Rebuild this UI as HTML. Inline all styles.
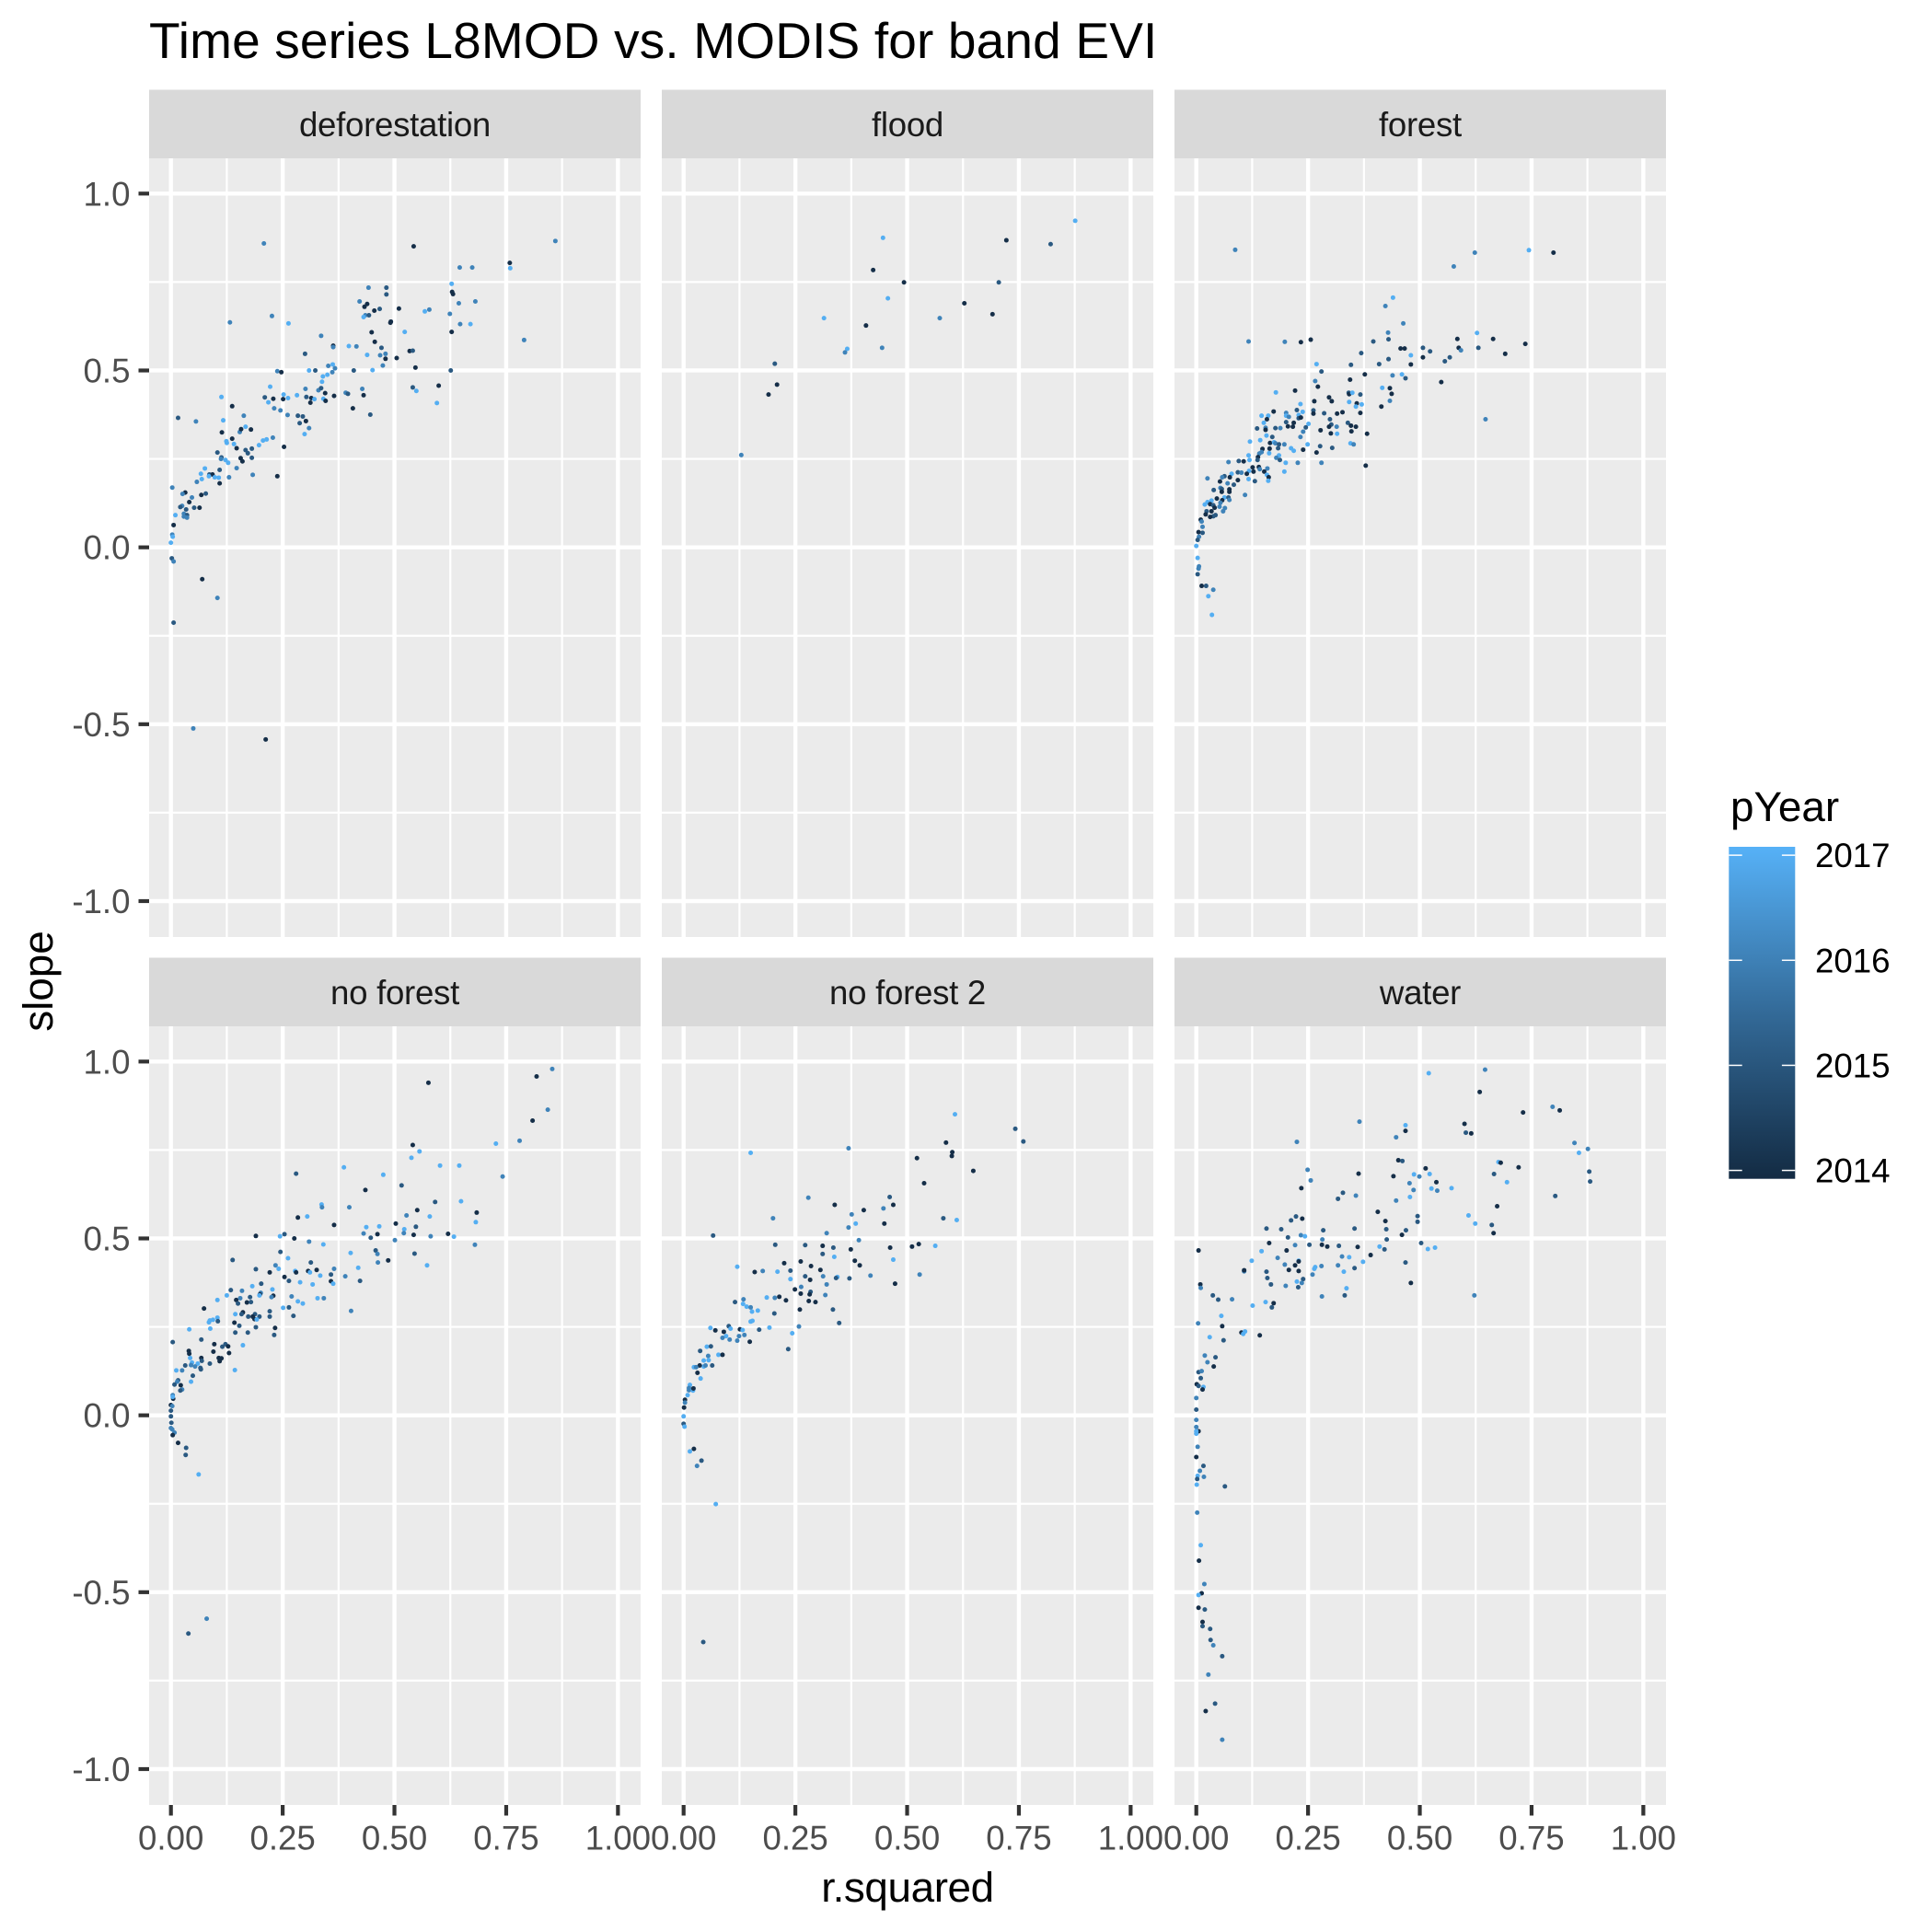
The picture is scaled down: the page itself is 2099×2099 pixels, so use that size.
<!DOCTYPE html>
<html lang="en">
<head>
<meta charset="utf-8">
<title>Time series L8MOD vs. MODIS for band EVI</title>
<style>
html,body{margin:0;padding:0;background:#fff;}
svg{display:block;}
text{font-family:"Liberation Sans",Arial,sans-serif;}
</style>
</head>
<body>
<svg id="chart" xmlns="http://www.w3.org/2000/svg" width="2099" height="2099" viewBox="0 0 2099 2099">
<defs>
<linearGradient id="legendGradient" x1="0" y1="1" x2="0" y2="0">
<stop offset="0" stop-color="#132B43"/>
<stop offset="0.5" stop-color="#336A98"/>
<stop offset="1" stop-color="#56B1F7"/>
</linearGradient>
</defs>
<rect x="0" y="0" width="2099" height="2099" fill="#fff"/>
<text x="162" y="63" font-size="55" letter-spacing="0.16" fill="#000">Time series L8MOD vs. MODIS for band EVI</text>
<text x="986" y="2066" font-size="45.83" letter-spacing="-0.4" fill="#000" text-anchor="middle">r.squared</text>
<text x="0" y="0" transform="translate(57 1066) rotate(-90)" font-size="45.83" fill="#000" text-anchor="middle">slope</text>
<g id="panels"></g>
<g id="legend">
<text x="1880" y="892" font-size="45.83" fill="#000">pYear</text>
<rect x="1878.3" y="920" width="72" height="360.7" fill="url(#legendGradient)"/>
</g>
</svg>
<script>
const panelNames = ['deforestation','flood','forest','no forest','no forest 2','water'];
const xTickValues = [0,0.25,0.5,0.75,1];
const xTickLabels = ['0.00','0.25','0.50','0.75','1.00'];
const xMinorValues = [0.125,0.375,0.625,0.875];
const yTickValues = [-1,-0.5,0,0.5,1];
const yTickLabels = ['-1.0','-0.5','0.0','0.5','1.0'];
const yMinorValues = [-0.75,-0.25,0.25,0.75];
const legendYears = [2014,2015,2016,2017];

const deforestationR = [.208,.442,.482,.482,.422,.439,.433,.455,.467,.435,.443,.431,.492,.132,.226,.263,.449,.336,.456,.363,.363,.398,.415,.471,.300,.439,.468,.480,.480,.474,.352,.362,.367,.238,.247,.309,.323,.409,.451,.361,.350,.340,.338,.222,.301,.330,.336,.345,.391,.396,.428,.431,.365,.113,.210,.229,.251,.252,.262,.282,.303,.314,.321,.341,.346,.312,.218,.137,.231,.245,.407,.016,.056,.163,.117,.261,.284,.295,.288,.302,.446,.309,.299,.114,.154,.157,.167,.179,.137,.124,.125,.141,.147,.228,.214,.206,.197,.181,.253,.167,.172,.104,.113,.112,.156,.160,.181,.122,.128,.147,.076,.109,.067,.086,.093,.085,.098,.107,.130,.183,.238,.069,.058,.109,.003,.032,.026,.068,.078,.047,.041,.025,.021,.034,.052,.064,.010,.029,.036,.029,.036,.006,.003,.004,0,.002,.006,.070,.104,.543,.646,.674,.758,.759,.860,.628,.629,.631,.644,.681,.510,.568,.578,.624,.647,.670,.491,.523,.628,.790,.534,.541,.505,.547,.626,.599,.541,.549,.595,.006,.050,.212];
const deforestationSlope = [.859,.734,.734,.715,.695,.688,.680,.669,.674,.656,.656,.651,.638,.636,.654,.633,.608,.598,.581,.570,.566,.569,.568,.564,.547,.544,.543,.547,.533,.514,.513,.517,.506,.498,.495,.500,.500,.500,.501,.495,.488,.483,.468,.454,.448,.444,.450,.436,.437,.434,.448,.430,.428,.425,.424,.420,.419,.432,.422,.430,.425,.422,.419,.420,.414,.409,.410,.399,.393,.387,.393,.366,.356,.372,.359,.374,.372,.370,.351,.357,.375,.337,.320,.325,.326,.334,.341,.333,.307,.300,.295,.292,.280,.310,.305,.302,.289,.279,.284,.275,.266,.268,.254,.250,.252,.243,.253,.247,.239,.224,.223,.219,.208,.206,.206,.201,.198,.197,.198,.205,.201,.193,.185,.181,.169,.155,.151,.148,.152,.141,.128,.117,.114,.107,.112,.112,.091,.095,.091,.087,.084,.063,.036,.030,.013,-.031,-.040,-.090,-.143,.851,.791,.791,.804,.789,.866,.745,.722,.716,.690,.695,.675,.667,.672,.660,.631,.631,.635,.609,.609,.586,.555,.556,.535,.508,.500,.457,.452,.442,.408,-.213,-.512,-.543];
const deforestationYear = [2016,2016,2015,2015,2016,2014,2014,2014,2015,2016,2015,2017,2014,2016,2016,2017,2014,2016,2014,2014,2016,2017,2016,2015,2015,2017,2016,2016,2014,2016,2016,2017,2016,2016,2014,2017,2015,2015,2017,2016,2017,2017,2017,2017,2016,2016,2015,2014,2016,2015,2016,2014,2014,2017,2015,2014,2014,2017,2017,2017,2015,2014,2017,2017,2014,2014,2017,2014,2016,2016,2014,2015,2016,2016,2017,2016,2015,2015,2015,2014,2015,2016,2017,2014,2016,2014,2017,2014,2014,2017,2017,2017,2014,2016,2017,2017,2017,2015,2014,2015,2015,2015,2015,2016,2014,2014,2015,2017,2017,2016,2017,2015,2017,2015,2014,2017,2017,2017,2016,2016,2014,2017,2016,2014,2016,2014,2016,2014,2015,2016,2014,2016,2015,2015,2015,2014,2017,2016,2015,2016,2016,2014,2016,2017,2017,2015,2016,2014,2016,2014,2016,2016,2014,2017,2016,2017,2014,2014,2016,2016,2014,2017,2016,2016,2016,2017,2014,2017,2014,2016,2014,2015,2014,2014,2015,2014,2015,2017,2017,2015,2016,2014];

const floodR = [.446,.424,.493,.457,.408,.444,.366,.361,.314,.204,.209,.190,.129,.573,.628,.691,.705,.722,.821,.876];
const floodSlope = [.875,.784,.749,.704,.627,.564,.561,.551,.648,.519,.460,.432,.261,.648,.690,.659,.749,.868,.857,.923];
const floodYear = [2017,2014,2014,2017,2014,2016,2017,2016,2017,2015,2014,2014,2016,2016,2014,2014,2015,2014,2015,2017];

const forestR = [.087,.440,.423,.463,.429,.430,.396,.117,.198,.234,.256,.457,.466,.369,.480,.430,.269,.346,.409,.480,.280,.377,.439,.460,.468,.344,.266,.272,.416,.433,.178,.221,.341,.342,.349,.367,.437,.297,.303,.264,.342,.433,.233,.359,.370,.357,.414,.225,.262,.262,.238,.173,.201,.161,.146,.201,.207,.229,.229,.234,.286,.315,.327,.367,.158,.299,.151,.201,.218,.251,.339,.302,.136,.155,.155,.177,.188,.205,.216,.245,.297,.314,.346,.357,.239,.278,.347,.157,.170,.233,.301,.315,.382,.120,.143,.165,.174,.177,.185,.197,.249,.164,.183,.148,.212,.218,.239,.277,.304,.345,.352,.146,.141,.163,.117,.269,.185,.138,.137,.119,.179,.187,.072,.095,.106,.200,.227,.280,.379,.126,.140,.142,.159,.152,.128,.118,.113,.093,.101,.079,.197,.158,.063,.058,.075,.162,.025,.117,.093,.131,.161,.053,.070,.084,.039,.054,.057,.074,.057,.074,.109,.046,.063,.072,.074,.058,.034,.025,.019,.031,.038,.054,.052,.041,.064,.060,.023,.034,.021,.043,.038,.031,.010,.012,.014,.005,.014,.006,.003,0,.003,.006,.005,.003,.012,.022,.038,.027,.035,.799,.744,.623,.576,.736,.664,.691,.628,.631,.584,.587,.592,.507,.523,.548,.567,.647,.507,.556];
const forestSlope = [.841,.706,.682,.633,.607,.588,.582,.582,.581,.580,.587,.562,.562,.549,.543,.532,.518,.516,.518,.517,.497,.489,.486,.489,.478,.474,.470,.454,.451,.450,.438,.443,.437,.433,.437,.432,.434,.424,.413,.413,.411,.414,.405,.407,.404,.398,.398,.388,.387,.378,.383,.384,.380,.372,.372,.372,.369,.374,.365,.367,.379,.378,.382,.380,.362,.362,.352,.354,.352,.349,.352,.347,.336,.338,.332,.337,.337,.342,.341,.339,.341,.341,.344,.341,.327,.331,.328,.316,.312,.312,.322,.321,.321,.299,.303,.295,.297,.294,.291,.291,.291,.279,.280,.278,.280,.273,.276,.286,.281,.294,.291,.269,.265,.266,.260,.268,.260,.255,.247,.247,.253,.247,.241,.244,.243,.239,.239,.239,.231,.226,.227,.221,.223,.214,.214,.216,.208,.212,.211,.208,.214,.205,.201,.198,.198,.198,.195,.193,.190,.187,.188,.186,.181,.177,.162,.168,.165,.164,.157,.157,.148,.138,.141,.141,.134,.133,.132,.128,.121,.122,.119,.126,.115,.112,.111,.102,.102,.102,.093,.091,.088,.086,.078,.073,.058,.043,.041,.030,.021,.004,-.030,-.054,-.060,-.076,-.109,-.109,-.120,-.138,-.191,.833,.840,.833,.794,.575,.589,.547,.606,.564,.589,.564,.557,.564,.554,.467,.537,.362,.537,.526];
const forestYear = [2016,2017,2016,2016,2016,2015,2015,2016,2016,2014,2014,2014,2014,2015,2017,2015,2017,2015,2015,2014,2015,2014,2016,2017,2015,2014,2016,2014,2017,2014,2017,2014,2015,2014,2017,2015,2014,2014,2014,2014,2017,2016,2017,2014,2017,2017,2014,2015,2015,2014,2017,2014,2016,2017,2017,2017,2016,2017,2015,2014,2015,2014,2014,2014,2014,2015,2017,2015,2014,2017,2015,2015,2015,2016,2014,2015,2016,2014,2014,2015,2014,2016,2014,2014,2016,2014,2014,2017,2015,2016,2014,2017,2014,2017,2017,2014,2017,2016,2015,2016,2017,2014,2015,2014,2017,2017,2014,2015,2015,2017,2016,2016,2016,2017,2017,2014,2017,2014,2015,2017,2016,2015,2016,2015,2014,2017,2016,2016,2014,2014,2014,2016,2016,2014,2014,2017,2014,2015,2016,2017,2017,2017,2015,2016,2014,2014,2016,2017,2014,2015,2017,2014,2016,2015,2015,2016,2015,2014,2014,2014,2016,2014,2017,2015,2016,2014,2017,2017,2017,2014,2015,2016,2016,2014,2016,2016,2015,2014,2014,2015,2015,2014,2014,2016,2016,2014,2015,2016,2015,2017,2017,2016,2016,2015,2014,2015,2016,2017,2017,2014,2017,2016,2016,2014,2014,2014,2017,2015,2014,2014,2016,2015,2015,2014,2015,2016,2014,2015];

const noForestR = [.576,.541,.556,.538,.387,.280,.475,.435,.516,.337,.338,.399,.551,.527,.579,.305,.284,.365,.503,.437,.466,.522,.548,.190,.244,.254,.276,.431,.462,.521,.447,.543,.581,.501,.309,.341,.245,.402,.458,.462,.545,.262,.138,.313,.463,.486,.573,.234,.190,.241,.365,.419,.278,.307,.326,.221,.280,.311,.358,.334,.390,.254,.358,.423,.264,.289,.317,.363,.202,.134,.159,.182,.227,.201,.125,.199,.198,.177,.229,.225,.270,.328,.342,.104,.155,.146,.170,.179,.150,.284,.295,.074,.251,.264,.403,.221,.161,.144,.158,.188,.173,.183,.198,.221,.274,.104,.094,.087,.085,.105,.187,.192,.142,.153,.190,.088,.041,.233,.144,.172,.231,.068,.004,.097,.122,.128,.115,.161,.040,.095,.041,.130,.043,.068,.107,.113,.069,.109,.087,.047,.060,.032,.045,.054,.066,.067,.012,.025,.143,.049,.016,.014,.008,.022,.045,.025,.021,.004,.005,.004,0,.003,0,0,.001,0,.003,.008,.004,.016,.034,.033,.062,.853,.818,.843,.809,.780,.727,.602,.645,.742,.591,.649,.684,.682,.620,.633,.680,.039,.080];
const noForestSlope = [.940,.764,.746,.728,.701,.683,.680,.637,.650,.596,.588,.588,.580,.565,.562,.562,.559,.538,.542,.532,.534,.526,.533,.507,.506,.512,.500,.514,.512,.515,.502,.510,.506,.495,.491,.483,.462,.459,.466,.456,.457,.444,.439,.432,.432,.438,.424,.424,.413,.414,.414,.417,.408,.408,.411,.404,.404,.404,.398,.395,.393,.391,.379,.380,.380,.376,.370,.372,.372,.354,.352,.365,.356,.346,.339,.342,.339,.334,.338,.334,.336,.331,.331,.326,.331,.326,.319,.320,.316,.322,.316,.302,.304,.305,.295,.294,.291,.286,.286,.286,.279,.279,.279,.279,.281,.276,.270,.268,.263,.266,.272,.271,.262,.253,.249,.245,.243,.247,.234,.234,.227,.214,.207,.201,.201,.195,.194,.198,.182,.180,.174,.176,.162,.162,.162,.161,.154,.153,.146,.149,.146,.141,.142,.138,.134,.130,.127,.127,.128,.112,.099,.095,.087,.085,.095,.073,.070,.057,.047,.052,.029,.026,.013,-.003,-.021,-.036,-.040,-.049,-.056,-.078,-.092,-.112,-.167,.979,.958,.864,.833,.776,.768,.706,.706,.675,.603,.605,.573,.546,.513,.505,.482,-.617,-.575];
const noForestYear = [2014,2014,2017,2017,2017,2015,2017,2014,2015,2017,2016,2016,2014,2016,2017,2017,2014,2014,2014,2017,2017,2017,2015,2014,2017,2015,2014,2016,2014,2016,2015,2014,2016,2016,2016,2017,2015,2017,2015,2016,2015,2017,2015,2015,2016,2014,2017,2016,2015,2017,2016,2017,2017,2014,2014,2014,2014,2017,2015,2017,2016,2014,2014,2015,2015,2017,2017,2017,2015,2015,2016,2017,2017,2016,2017,2014,2017,2015,2014,2016,2016,2017,2016,2017,2016,2014,2014,2015,2015,2017,2017,2014,2017,2015,2016,2015,2014,2017,2015,2015,2015,2014,2015,2015,2015,2017,2017,2017,2017,2015,2014,2017,2014,2015,2015,2017,2017,2014,2015,2015,2015,2015,2015,2014,2015,2014,2015,2017,2014,2014,2014,2014,2017,2014,2014,2014,2015,2014,2015,2017,2017,2015,2016,2016,2015,2015,2017,2016,2017,2015,2015,2016,2015,2014,2017,2016,2015,2016,2014,2017,2014,2016,2015,2015,2015,2016,2016,2016,2014,2014,2015,2015,2017,2016,2014,2016,2014,2016,2017,2017,2017,2016,2015,2017,2014,2017,2014,2017,2016,2015,2016];

const noForest2R = [.369,.150,.522,.538,.461,.469,.338,.279,.447,.403,.376,.200,.581,.449,.385,.369,.320,.066,.392,.526,.563,.511,.205,.272,.311,.335,.374,.462,.311,.337,.469,.383,.225,.262,.285,.394,.120,.159,.177,.210,.239,.306,.272,.312,.344,.341,.371,.418,.528,.239,.283,.320,.473,.263,.249,.284,.262,.282,.317,.214,.186,.204,.134,.115,.229,.280,.295,.133,.141,.150,.166,.153,.260,.334,.203,.150,.154,.348,.101,.060,.105,.192,.258,.071,.090,.126,.132,.169,.243,.095,.136,.124,.087,.103,.120,.148,.052,.061,.234,.037,.078,.087,.055,.045,.056,.045,.049,.064,.036,.023,.028,.031,.038,.014,.012,.012,.021,.022,.009,.003,.003,.001,0,0,.002,.023,.014,.040,.030,.072,.607,.742,.760,.587,.601,.600,.648,.611,.044];
const noForest2Slope = [.755,.742,.727,.656,.617,.595,.595,.615,.585,.580,.568,.557,.557,.542,.542,.531,.515,.508,.495,.484,.479,.477,.482,.481,.479,.474,.469,.474,.456,.448,.440,.437,.430,.435,.422,.424,.420,.405,.408,.406,.409,.411,.393,.393,.391,.388,.387,.395,.398,.385,.383,.370,.372,.363,.356,.349,.344,.342,.340,.335,.333,.332,.328,.320,.325,.323,.320,.315,.307,.305,.296,.293,.299,.299,.288,.265,.267,.261,.252,.247,.245,.248,.251,.240,.236,.243,.241,.242,.232,.224,.227,.224,.219,.214,.211,.208,.194,.195,.187,.182,.171,.171,.168,.155,.156,.138,.141,.141,.141,.136,.136,.120,.104,.086,.077,.071,.070,.076,.057,.044,.036,.022,-.003,-.024,-.032,-.095,-.102,-.128,-.143,-.251,.851,.810,.774,.771,.744,.733,.691,.552,-.641];
const noForest2Year = [2016,2017,2014,2014,2015,2014,2014,2016,2016,2014,2016,2016,2015,2014,2017,2016,2016,2015,2016,2014,2017,2014,2015,2015,2014,2015,2014,2014,2015,2017,2017,2014,2014,2014,2014,2014,2017,2014,2016,2017,2015,2014,2015,2016,2017,2015,2015,2016,2016,2017,2014,2016,2014,2016,2014,2015,2014,2014,2016,2014,2017,2016,2016,2015,2014,2014,2014,2017,2017,2016,2017,2017,2014,2015,2015,2017,2017,2015,2015,2017,2017,2017,2016,2014,2014,2014,2017,2015,2017,2017,2016,2016,2016,2016,2016,2014,2017,2015,2015,2015,2017,2014,2016,2017,2017,2017,2016,2015,2014,2017,2016,2014,2017,2017,2016,2016,2017,2014,2017,2014,2016,2014,2017,2015,2017,2014,2017,2015,2016,2017,2017,2015,2015,2014,2014,2014,2014,2017,2015];

const waterR = [.520,.365,.468,.468,.447,.225,.452,.461,.513,.249,.363,.256,.441,.487,.499,.522,.477,.537,.235,.486,.526,.539,.571,.328,.357,.317,.478,.447,.406,.423,.495,.495,.223,.212,.237,.157,.190,.205,.284,.354,.425,.469,.460,.234,.243,.282,.426,.503,.163,.253,.281,.293,.319,.361,.410,.421,.390,.518,.534,.005,.202,.146,.221,.124,.229,.229,.182,.326,.342,.373,.468,.107,.107,.198,.221,.317,.280,.266,.264,.354,.207,.229,.157,.330,.260,.159,.239,.236,.225,.480,.009,.010,.167,.200,.228,.336,.037,.049,.080,.281,.332,.173,.126,.155,.169,.056,.004,.058,.101,.109,.105,.142,.030,.061,.019,.043,.025,.039,.005,.012,.010,.001,.005,.016,.014,0,0,0,0,.005,0,0,.003,0,.016,.008,.003,.002,.017,.001,.064,.002,.010,.006,.018,.012,.005,.005,.019,.014,.014,.031,.032,.038,.058,.027,.042,.021,.058,.646,.634,.731,.797,.813,.600,.603,.615,.846,.856,.876,.676,.681,.721,.879,.881,.666,.695,.803,.673,.609,.624,.661,.665,.622];
const waterSlope = [.967,.830,.820,.804,.786,.773,.721,.719,.698,.694,.683,.664,.676,.681,.675,.682,.656,.659,.642,.637,.641,.635,.642,.629,.621,.612,.617,.607,.575,.549,.563,.547,.562,.551,.556,.528,.526,.503,.523,.528,.526,.523,.510,.509,.506,.497,.497,.487,.487,.482,.482,.477,.479,.476,.477,.469,.453,.470,.474,.466,.466,.464,.481,.437,.437,.435,.445,.449,.447,.434,.432,.407,.410,.426,.424,.424,.422,.419,.414,.416,.411,.408,.406,.406,.398,.388,.385,.374,.378,.374,.370,.360,.370,.366,.362,.359,.339,.327,.328,.336,.339,.317,.310,.320,.305,.281,.260,.252,.234,.237,.230,.226,.221,.212,.169,.164,.150,.138,.122,.125,.105,.088,.083,.080,.073,.049,.016,-.013,-.033,-.045,-.045,-.052,-.089,-.118,-.143,-.157,-.171,-.180,-.174,-.196,-.201,-.275,-.367,-.411,-.477,-.503,-.508,-.544,-.549,-.584,-.596,-.604,-.635,-.650,-.681,-.733,-.815,-.836,-.917,.977,.914,.856,.872,.862,.824,.799,.797,.770,.742,.753,.716,.714,.701,.689,.661,.682,.659,.620,.591,.565,.542,.538,.515,.339];
const waterYear = [2017,2016,2017,2014,2016,2016,2014,2015,2014,2016,2014,2016,2014,2017,2016,2017,2016,2014,2014,2016,2017,2016,2017,2015,2016,2015,2017,2016,2014,2014,2015,2015,2015,2015,2014,2015,2015,2015,2015,2015,2015,2015,2014,2016,2017,2016,2015,2015,2014,2015,2014,2014,2015,2014,2017,2015,2014,2017,2017,2014,2014,2017,2016,2017,2017,2014,2016,2016,2017,2017,2015,2016,2014,2016,2014,2016,2016,2017,2017,2015,2014,2014,2015,2017,2016,2015,2015,2016,2017,2014,2014,2016,2015,2016,2015,2017,2015,2015,2016,2016,2015,2014,2017,2017,2015,2017,2016,2014,2014,2017,2017,2014,2017,2015,2016,2015,2016,2014,2015,2016,2015,2014,2015,2017,2014,2016,2015,2016,2016,2014,2017,2017,2016,2014,2015,2016,2017,2015,2016,2017,2015,2016,2017,2014,2016,2014,2017,2014,2015,2014,2015,2015,2015,2016,2015,2016,2015,2014,2016,2016,2014,2014,2016,2014,2014,2015,2014,2016,2017,2016,2017,2014,2014,2015,2015,2015,2017,2015,2014,2017,2017,2015,2014,2016];

const seriesR = [deforestationR,floodR,forestR,noForestR,noForest2R,waterR];
const seriesSlope = [deforestationSlope,floodSlope,forestSlope,noForestSlope,noForest2Slope,waterSlope];
const seriesYear = [deforestationYear,floodYear,forestYear,noForestYear,noForest2Year,waterYear];

const SVG_NS = 'http://www.w3.org/2000/svg';
const PANEL_W = 534, PANEL_H = 846, COL_STEP = 557;
const ROW_TOPS = [172,1115];
const STRIP_H = 74.5;
const X_MIN = -0.0488, X_MAX = 1.0507, Y_MIN = -1.1015, Y_MAX = 1.0997;
const YEAR_MIN = 2013.92, YEAR_MAX = 2017.08;
const LOW = [19,43,67], HIGH = [86,177,247];

function xScale(col, r){ return 162 + COL_STEP*col + (r - X_MIN)/(X_MAX - X_MIN)*PANEL_W; }
function yScale(row, s){ return ROW_TOPS[row] + (Y_MAX - s)/(Y_MAX - Y_MIN)*PANEL_H; }
function legendY(year){ return 1280.7 - (year - YEAR_MIN)/(YEAR_MAX - YEAR_MIN)*360.7; }
function yearColor(year){
  const t = Math.max(0, Math.min(1, (year - YEAR_MIN)/(YEAR_MAX - YEAR_MIN)));
  const c = LOW.map(function(l,i){ return Math.round(l + (HIGH[i]-l)*t); });
  return 'rgb(' + c.join(',') + ')';
}
function make(tag, parent, attrs){
  const el = document.createElementNS(SVG_NS, tag);
  Object.keys(attrs).forEach(function(k){ el.setAttribute(k, attrs[k]); });
  parent.appendChild(el);
  return el;
}

const panelsRoot = document.getElementById('panels');
panelNames.forEach(function(name, idx){
  const col = idx % 3, row = Math.floor(idx / 3);
  const left = 162 + COL_STEP*col, top = ROW_TOPS[row];
  const slug = name.replace(/ /g,'-');

  const group = make('g', panelsRoot, {});
  
  

  const strip = make('rect', group, {x:left, y:top-STRIP_H, width:PANEL_W, height:STRIP_H, fill:'#D9D9D9'});
  
  

  const stripLabel = make('text', group, {x:left+PANEL_W/2, y:top-24.2, 'font-size':36.67, 'letter-spacing':-0.3, fill:'#1A1A1A', 'text-anchor':'middle'});
  stripLabel.textContent = name;
  
  

  const bg = make('rect', group, {x:left, y:top, width:PANEL_W, height:PANEL_H, fill:'#EBEBEB'});
  
  

  yMinorValues.forEach(function(v){
    const y = yScale(row, v);
    const line = make('line', group, {x1:left, x2:left+PANEL_W, y1:y, y2:y, stroke:'#fff', 'stroke-width':2.2});
    
    
  });
  xMinorValues.forEach(function(v){
    const x = xScale(col, v);
    const line = make('line', group, {x1:x, x2:x, y1:top, y2:top+PANEL_H, stroke:'#fff', 'stroke-width':2.2});
    
    
  });
  yTickValues.forEach(function(v){
    const y = yScale(row, v);
    const line = make('line', group, {x1:left, x2:left+PANEL_W, y1:y, y2:y, stroke:'#fff', 'stroke-width':4.4});
    
    
  });
  xTickValues.forEach(function(v){
    const x = xScale(col, v);
    const line = make('line', group, {x1:x, x2:x, y1:top, y2:top+PANEL_H, stroke:'#fff', 'stroke-width':4.4});
    
    
  });

  if (row === 1) {
    xTickValues.forEach(function(v, i){
      const x = xScale(col, v);
      const tick = make('line', group, {x1:x, x2:x, y1:top+PANEL_H, y2:top+PANEL_H+11.5, stroke:'#333', 'stroke-width':4.2});
      
      
      const label = make('text', group, {x:x, y:top+PANEL_H+48.3, 'font-size':36.67, fill:'#4D4D4D', 'text-anchor':'middle'});
      label.textContent = xTickLabels[i];
      
      
    });
  }
  if (col === 0) {
    yTickValues.forEach(function(v, i){
      const y = yScale(row, v);
      const tick = make('line', group, {x1:left-11.5, x2:left, y1:y, y2:y, stroke:'#333', 'stroke-width':4.2});
      
      
      const label = make('text', group, {x:left-20.5, y:y+13, 'font-size':36.67, fill:'#4D4D4D', 'text-anchor':'end'});
      label.textContent = yTickLabels[i];
      
      
    });
  }

  const rs = seriesR[idx], ss = seriesSlope[idx], ys = seriesYear[idx];
  for (let i = 0; i < rs.length; i++) {
    const pt = make('circle', group, {cx:xScale(col, rs[i]), cy:yScale(row, ss[i]), r:2.5, fill:yearColor(ys[i])});
    
    
  }
});

const legendRoot = document.getElementById('legend');
legendYears.forEach(function(year){
  const y = legendY(year);
  const tickL = make('line', legendRoot, {x1:1878.3, x2:1892.7, y1:y, y2:y, stroke:'#fff', 'stroke-width':1.5});
  
  
  const tickR = make('line', legendRoot, {x1:1935.9, x2:1950.3, y1:y, y2:y, stroke:'#fff', 'stroke-width':1.5});
  
  
  const label = make('text', legendRoot, {x:1972, y:y+13, 'font-size':36.67, fill:'#000'});
  label.textContent = String(year);
  
  
});
</script>
</body>
</html>
